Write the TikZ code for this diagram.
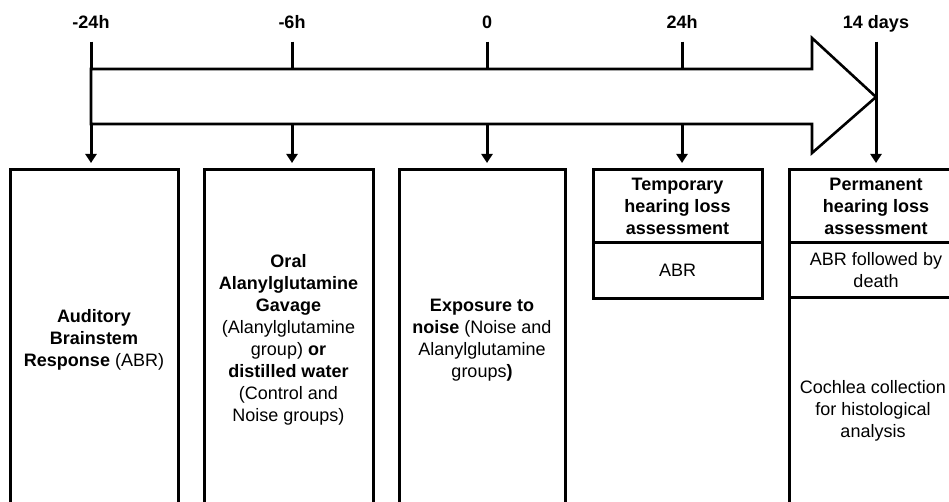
\documentclass[tikz,border=0pt]{standalone}
\usepackage{fontspec}
\setmainfont{Liberation Sans}
\usetikzlibrary{arrows.meta,positioning}

\tikzset{
  timelabel/.style={font=\bfseries\fontsize{18}{21}\selectfont, anchor=base, inner sep=0pt, text depth=0pt},
  stepbox/.style={draw, line width=3pt, outer sep=0pt, align=center, font=\fontsize{18}{22}\selectfont, minimum width=168pt},
  tick/.style={line width=3pt, shorten <=13pt, shorten >=7pt, -{Triangle[width=11pt,length=9pt]}},
  bigarrow/.style={line width=2.6pt, fill=white, line join=miter},
}

\begin{document}
\begin{tikzpicture}[x=1pt,y=-1pt]
	\clip (0,0) rectangle (949,502);
	% time points
	\node [timelabel] (tA) at (91,28.5) {-24h};
	\node [timelabel] (tB) at (292,28.5) {-6h};
	\node [timelabel] (tC) at (487,28.5) {0};
	\node [timelabel] (tD) at (682,28.5) {24h};
	\node [timelabel] (tE) at (876,28.5) {14 days};
	% steps
	\node [stepbox, minimum height=340pt] (boxA) at (94,340) {\textbf{Auditory}\\\textbf{Brainstem}\\\textbf{Response} (ABR)};
	\node [stepbox, minimum height=340pt, minimum width=169pt] (boxB) at (288.5,340) {\textbf{Oral}\\\textbf{Alanylglutamine}\\\textbf{Gavage}\\(Alanylglutamine\\group) \textbf{or}\\\textbf{distilled water}\\(Control and\\Noise groups)};
	\node [stepbox, minimum height=340pt, minimum width=166pt] (boxC) at (482,340) {\textbf{Exposure to}\\\textbf{noise} (Noise and\\Alanylglutamine\\groups\textbf{)}};
	\node [stepbox, minimum height=73pt, minimum width=169pt] (tempHead) at (677.5,206.5) {\textbf{Temporary}\\\textbf{hearing loss}\\\textbf{assessment}};
	\node [stepbox, minimum height=55pt, minimum width=169pt, below=0pt of tempHead] (tempABR) {ABR};
	\node [stepbox, minimum height=73pt, minimum width=174pt] (permHead) at (876,206.5) {\textbf{Permanent}\\\textbf{hearing loss}\\\textbf{assessment}};
	\node [stepbox, minimum height=54pt, minimum width=174pt, below=0pt of permHead] (permABR) {ABR followed by\\death};
	\node [stepbox, minimum height=228pt, minimum width=168pt, below right=0pt and 0pt of permABR.south west] (permCoch) {Cochlea collection\\for histological\\analysis};
	% ticks down to the steps
	\draw [tick] (tA.south) -- (tA.south |- boxA.north);
	\draw [tick] (tB.south) -- (tB.south |- boxB.north);
	\draw [tick] (tC.south) -- (tC.south |- boxC.north);
	\draw [tick] (tD.south) -- (tD.south |- tempHead.north);
	\draw [tick] (tE.south) -- (tE.south |- permHead.north);
	% time arrow
	\draw [bigarrow] (91,69) -- (812,69) -- (812,38) -- (876,97) -- (812,153) -- (812,124) -- (91,124) -- cycle;
\end{tikzpicture}
\end{document}
